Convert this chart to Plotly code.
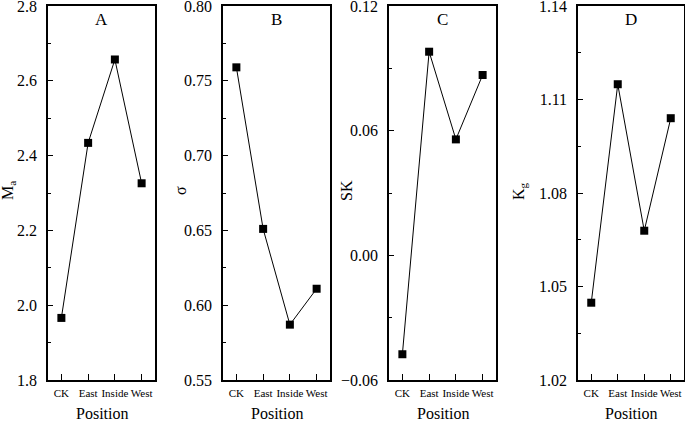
import plotly.graph_objects as go

positions = ["CK", "East", "Inside", "West"]
ma_values = [1.966, 2.434, 2.657, 2.326]
sigma_values = [0.759, 0.651, 0.587, 0.611]
sk_values = [-0.0476, 0.098, 0.0558, 0.0868]
kg_values = [1.0448, 1.1149, 1.0679, 1.104]

panel_letters = ["A", "B", "C", "D"]
y_titles = ["M<sub>a</sub>", "σ", "SK", "K<sub>g</sub>"]
x_title = "Position"
y_ranges = [(1.8, 2.8), (0.55, 0.80), (-0.06, 0.12), (1.02, 1.14)]
y_dticks = [0.2, 0.05, 0.06, 0.03]
y_formats = [".1f", ".2f", ".2f", ".2f"]

W, H = 685, 421
# plot boxes in pixels (left, right), shared top/bottom
boxes = [(48, 155), (223, 330), (389, 496), (578, 684)]
top, bottom = 6, 380
title_x = [9, 181, 347, 520]

FONT = "Liberation Serif, Times New Roman, serif"

fig = go.Figure()
series = [ma_values, sigma_values, sk_values, kg_values]
layout = dict(
    width=W,
    height=H,
    margin=dict(l=0, r=0, t=0, b=0),
    paper_bgcolor="white",
    plot_bgcolor="white",
    showlegend=False,
    font=dict(family=FONT, color="black"),
)


def paper_text(text, px, py, size, angle=0):
    """Text placed by pixel position (centre) on the paper."""
    return dict(
        text=text,
        x=px / W,
        y=(H - py) / H,
        xref="paper",
        yref="paper",
        xanchor="center",
        yanchor="middle",
        showarrow=False,
        textangle=angle,
        font=dict(size=size, family=FONT),
    )


annotations = []
for i, values in enumerate(series):
    n = "" if i == 0 else str(i + 1)
    fig.add_trace(
        go.Scatter(
            x=positions,
            y=values,
            mode="lines+markers",
            line=dict(color="black", width=1),
            marker=dict(symbol="square", size=8, color="black"),
            xaxis="x" + n,
            yaxis="y" + n,
        )
    )
    l, r = boxes[i]
    lo, hi = y_ranges[i]
    pad = (hi - lo) * 1e-6  # keep the top tick label from being dropped by rounding
    layout["xaxis" + n] = dict(
        domain=[l / W, r / W],
        anchor="y" + n,
        range=[-0.5, 3.5],
        type="category",
        automargin=False,
        showline=True,
        linecolor="black",
        linewidth=1.5,
        mirror=True,
        ticks="inside",
        ticklen=6,
        tickcolor="black",
        tickwidth=1.2,
        ticklabelstandoff=2,
        showgrid=False,
        zeroline=False,
        tickfont=dict(size=11, family=FONT),
    )
    layout["yaxis" + n] = dict(
        domain=[(H - bottom) / H, (H - top) / H],
        anchor="x" + n,
        range=[lo - pad, hi + pad],
        tick0=lo,
        dtick=y_dticks[i],
        tickformat=y_formats[i],
        automargin=False,
        ticklabeloverflow="allow",
        ticklabelstandoff=6,
        showline=True,
        linecolor="black",
        linewidth=1.5,
        mirror=True,
        ticks="inside",
        ticklen=5,
        tickcolor="black",
        tickwidth=1.2,
        minor=dict(ticks="inside", ticklen=3, dtick=y_dticks[i] / 2, tickcolor="black"),
        showgrid=False,
        zeroline=False,
        tickfont=dict(size=16, family=FONT),
    )
    annotations.append(paper_text(panel_letters[i], (l + r) / 2, 19, 17))
    annotations.append(paper_text(y_titles[i], title_x[i], 191, 16, angle=-90))
    annotations.append(paper_text(x_title, (l + r) / 2, 413, 16))

layout["annotations"] = annotations
fig.update_layout(**layout)
fig.write_html(
    "out.html",
    config={"displayModeBar": False},
    post_script="document.body.style.margin='0';",
)
